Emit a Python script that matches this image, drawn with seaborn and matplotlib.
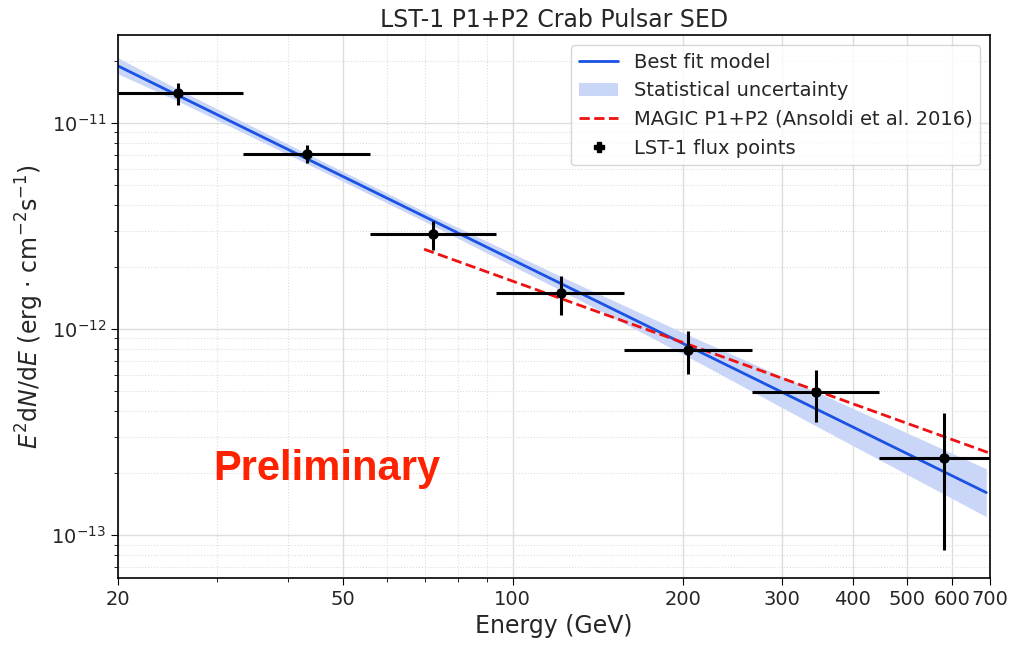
import numpy as np
import seaborn as sns
import matplotlib.pyplot as plt
from matplotlib.ticker import FixedLocator, FuncFormatter, NullFormatter, LogLocator
from matplotlib.lines import Line2D
from matplotlib.patches import Patch

# LST-1 flux points (GeV, erg cm-2 s-1)
energy = [25.5, 43.2, 72.2, 121.8, 204.3, 344.4, 580.0]
e_low = [20.0, 33.3, 55.9, 93.4, 157.5, 265.4, 445.0]
e_high = [33.3, 55.9, 93.4, 157.5, 265.4, 445.0, 760.0]
flux = [1.40e-11, 7.07e-12, 2.89e-12, 1.50e-12, 7.9e-13, 4.95e-13, 2.37e-13]
flux_hi = [1.56e-11, 7.8e-12, 3.34e-12, 1.81e-12, 9.8e-13, 6.3e-13, 3.9e-13]
flux_lo = [1.22e-11, 6.4e-12, 2.42e-12, 1.17e-12, 6.05e-13, 3.54e-13, 8.5e-14]

# best fit model and its statistical band
fit_e = [20.0, 690.0]
fit_flux = [1.89e-11, 1.61e-13]
band_e = [20.0, 25.5, 43.2, 72.2, 121.8, 204.3, 344.4, 690.0]
band_hi = [2.07e-11, 1.46e-11, 7.10e-12, 3.55e-12, 1.80e-12, 9.38e-13, 4.97e-13, 2.10e-13]
band_lo = [1.73e-11, 1.28e-11, 6.35e-12, 3.18e-12, 1.54e-12, 7.35e-13, 3.39e-13, 1.23e-13]

# MAGIC P1+P2 power law
magic_e = [69.7, 700.0]
magic_flux = [2.44e-12, 2.50e-13]

x_ticks = [20, 50, 100, 200, 300, 400, 500, 600, 700]

sns.set_style("white")
plt.rcParams['font.family'] = ['DejaVu Sans']
plt.rcParams['font.size'] = 14
plt.rcParams['mathtext.fontset'] = 'dejavusans'

blue = '#1a52e4'
band_col = '#cad6f7'
fig, ax = plt.subplots(figsize=(10.1, 6.46), dpi=100)
fig.subplots_adjust(left=0.1168, right=0.980, top=0.9458, bottom=0.1053)

ax.fill_between(band_e, band_lo, band_hi, color=band_col, lw=0, zorder=1)
sns.lineplot(x=fit_e, y=fit_flux, ax=ax, color=blue, lw=2, zorder=2)
sns.lineplot(x=magic_e, y=magic_flux, ax=ax, color='#ee1111', lw=2, ls='--', zorder=3)

e = np.array(energy)
f = np.array(flux)
ax.errorbar(e, f,
            xerr=[e - np.array(e_low), np.array(e_high) - e],
            yerr=[f - np.array(flux_lo), np.array(flux_hi) - f],
            fmt='o', color='black', ms=6.5, elinewidth=2.2, capsize=0, zorder=4)

ax.set_xscale('log')
ax.set_yscale('log')
ax.set_xlim(20, 700)
ax.set_ylim(6.2e-14, 2.67e-11)

ax.xaxis.set_major_locator(FixedLocator(x_ticks))
ax.xaxis.set_major_formatter(FuncFormatter(lambda v, p: f"{v:g}"))
ax.xaxis.set_minor_locator(FixedLocator([30, 40, 60, 70, 80, 90]))
ax.xaxis.set_minor_formatter(NullFormatter())
ax.yaxis.set_minor_locator(LogLocator(base=10, subs=np.arange(2, 10)))
ax.yaxis.set_minor_formatter(NullFormatter())

ax.tick_params(which='both', direction='out', left=True, bottom=True, color='black', labelsize=14)
ax.tick_params(which='major', length=5)
ax.tick_params(which='minor', length=3)
for s in ax.spines.values():
    s.set_color('black')
    s.set_linewidth(1.2)

ax.grid(True, which='major', color='#dddddd', lw=1)
ax.grid(True, which='minor', color='#dddddd', lw=0.8, ls=':')
ax.set_axisbelow(True)

ax.set_xlabel('Energy (GeV)', fontsize=17)
ax.set_ylabel(r'$E^2\mathrm{d}N/\mathrm{d}E$ (erg $\cdot$ cm$^{-2}$s$^{-1}$)', fontsize=17)
ax.set_title('LST-1 P1+P2 Crab Pulsar SED', fontsize=17)

ax.text(0.109, 0.18, 'Preliminary', transform=ax.transAxes, color='#ff2200',
        fontsize=30, fontweight='bold', family='Liberation Sans')

handles = [
    Line2D([], [], color=blue, lw=2),
    Patch(facecolor=band_col, edgecolor='none'),
    Line2D([], [], color='#ee1111', lw=2, ls='--'),
    Line2D([], [], color='black', marker='o', ms=6.5, lw=0),
]
labels = ['Best fit model', 'Statistical uncertainty',
          'MAGIC P1+P2 (Ansoldi et al. 2016)', 'LST-1 flux points']
leg = ax.legend(handles, labels, loc='upper right', fontsize=14, frameon=True)
# cross style handle for flux points
leg.legend_handles[3].set_marker('P')

fig.savefig('out.png', dpi=100)
